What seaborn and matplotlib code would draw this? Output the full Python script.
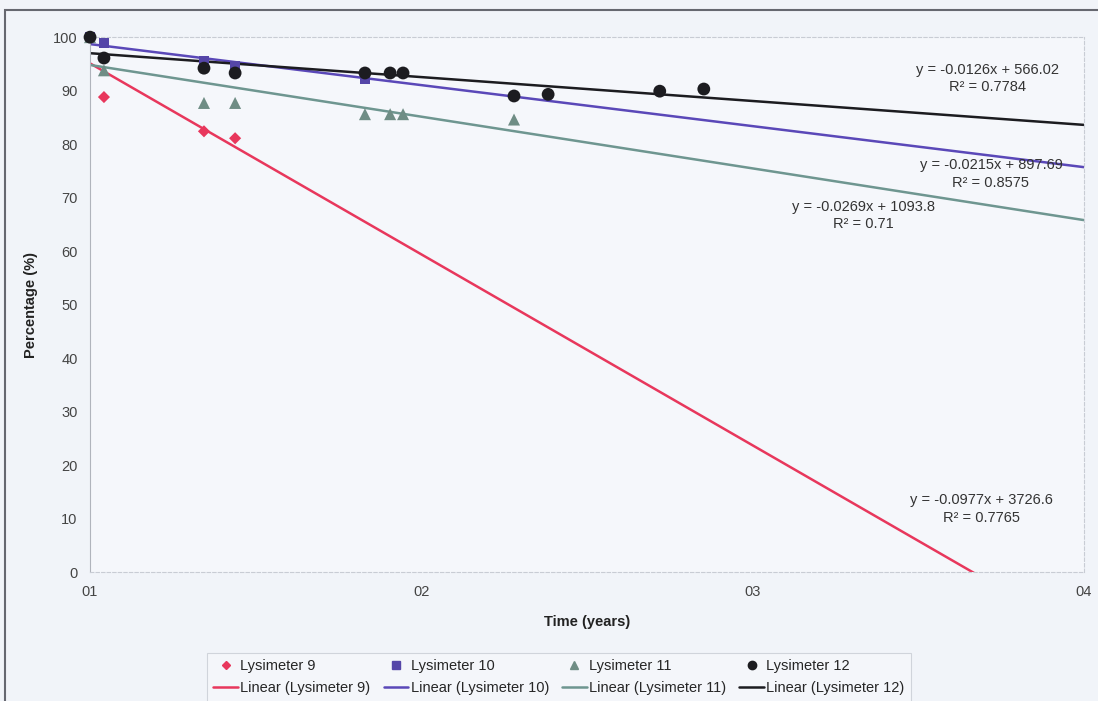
import matplotlib
matplotlib.use('Agg')
import matplotlib.pyplot as plt
import seaborn as sns
import pandas as pd
from matplotlib.patches import Rectangle
from matplotlib.lines import Line2D

# data (x = years since start of 2001)
lys9_x = [0, 0.042, 0.344, 0.438]
lys9_y = [100, 88.8, 82.4, 81.1]
lys10_x = [0, 0.042, 0.344, 0.438, 0.83]
lys10_y = [100, 98.9, 95.5, 94.5, 92.3]
lys11_x = [0, 0.042, 0.344, 0.438, 0.83, 0.906, 0.945, 1.28]
lys11_y = [100, 93.8, 87.7, 87.7, 85.6, 85.6, 85.6, 84.6]
lys12_x = [0, 0.042, 0.344, 0.438, 0.83, 0.906, 0.945, 1.28, 1.383, 1.72, 1.853]
lys12_y = [100, 96.1, 94.2, 93.3, 93.3, 93.3, 93.3, 89.0, 89.3, 89.9, 90.3]

# trend lines: value at start (x=0) and at end (x=3)
trend_x = [0, 3]
trend_start = [95.1, 98.7, 94.8, 97.0]
trend_end = [-12.0, 75.7, 65.8, 83.6]

equations = ['y = -0.0977x + 3726.6', 'y = -0.0215x + 897.69',
             'y = -0.0269x + 1093.8', 'y = -0.0126x + 566.02']
r2 = ['R² = 0.7765', 'R² = 0.8575', 'R² = 0.71', 'R² = 0.7784']
eq_pos = [(2.69, 11.8), (2.72, 74.4), (2.336, 66.7), (2.71, 92.3)]

names = ['Lysimeter 9', 'Lysimeter 10', 'Lysimeter 11', 'Lysimeter 12']
xs = [lys9_x, lys10_x, lys11_x, lys12_x]
ys = [lys9_y, lys10_y, lys11_y, lys12_y]
colors = ['#e8375c', '#5546a8', '#6f8d85', '#1c1c20']
line_colors = ['#e8375c', '#5a48b8', '#6e9690', '#1c1c20']
markers = ['D', 's', '^', 'o']
msizes = [38, 60, 75, 85]

sns.set_style('white')
plt.rcParams['font.family'] = ['Liberation Sans', 'DejaVu Sans']

fig = plt.figure(figsize=(10.98, 7.01), dpi=100)
fig.patch.set_facecolor('#f1f4f9')
ax = fig.add_axes([0.082, 0.184, 0.905, 0.763])
ax.set_facecolor('#f5f7fb')

handles = []
for i in range(4):
    d = pd.DataFrame({'x': xs[i], 'y': ys[i]})
    sns.scatterplot(data=d, x='x', y='y', ax=ax, marker=markers[i], s=msizes[i],
                    color=colors[i], edgecolor='none', zorder=3 + i, clip_on=False)
    t = pd.DataFrame({'x': trend_x, 'y': [trend_start[i], trend_end[i]]})
    sns.lineplot(data=t, x='x', y='y', ax=ax, color=line_colors[i], lw=1.8, zorder=2)
    ax.text(eq_pos[i][0], eq_pos[i][1], equations[i] + '\n' + r2[i], ha='center',
            va='center', fontsize=10.5, color='#333333', linespacing=1.3, zorder=6)
    handles.append(Line2D([], [], ls='none', marker=markers[i], color=colors[i],
                          markersize=[4.5, 5.5, 5.5, 6][i], label=names[i]))
    handles.append(Line2D([], [], color=line_colors[i], lw=1.8,
                          label='Linear (' + names[i] + ')'))

ax.set_xlim(0, 3)
ax.set_ylim(0, 100)
ax.set_xticks([0, 1, 2, 3])
ax.set_xticklabels(['01', '02', '03', '04'])
ax.set_yticks(range(0, 101, 10))
ax.tick_params(axis='both', labelsize=10.5, colors='#444444', length=0, pad=9)
ax.set_xlabel('Time (years)', fontsize=10.5, fontweight='bold', color='#222222', labelpad=12)
ax.set_ylabel('Percentage (%)', fontsize=10.5, fontweight='bold', color='#222222', labelpad=11)

for side in ['top', 'right', 'bottom']:
    ax.spines[side].set_color('#c8ccd4')
    ax.spines[side].set_linestyle((0, (3, 2)))
    ax.spines[side].set_linewidth(0.8)
ax.spines['left'].set_color('#b0b4bc')
ax.spines['left'].set_linewidth(0.8)

leg = fig.legend(handles=handles, loc='center', bbox_to_anchor=(0.509, 0.034), ncol=4,
                 fontsize=10.5, frameon=True, fancybox=False, handlelength=1.7,
                 handletextpad=0.15, columnspacing=0.9, labelspacing=0.55,
                 borderpad=0.45)
leg.get_frame().set_edgecolor('#c8ccd4')
leg.get_frame().set_facecolor('#f5f7fb')
leg.get_frame().set_linewidth(0.8)

fig.patches.append(Rectangle((0.005, -0.01), 1.0, 0.996, transform=fig.transFigure,
                             fill=False, edgecolor='#666870', lw=1.5))

fig.savefig('out.png', dpi=100)
